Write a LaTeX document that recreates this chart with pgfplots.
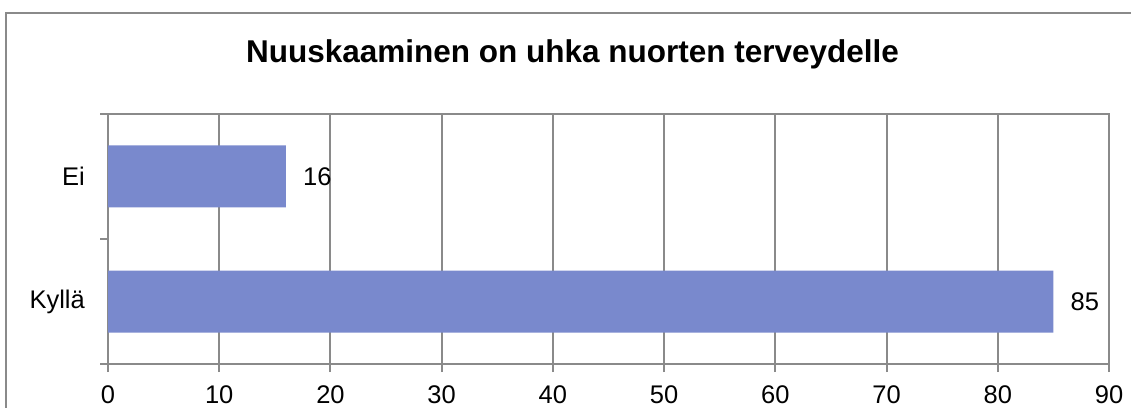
\documentclass[border=0pt]{standalone}
\usepackage{fontspec}
\setmainfont{Liberation Sans}
\usepackage{pgfplots}
\pgfplotsset{compat=1.18}
\definecolor{barblue}{RGB}{121,137,205}
\definecolor{gridgray}{RGB}{138,138,138}
\begin{document}
\begin{tikzpicture}[x=1pt,y=1pt]
\begin{scope}
\clip (0,0) rectangle (1131,407);
\draw[gridgray, line width=2pt] (6,-20) rectangle (1160,394);
\end{scope}
\node[font=\fontsize{31.5}{36}\selectfont\bfseries, anchor=base, inner sep=0pt] at (572.5,344) {Nuuskaaminen on uhka nuorten terveydelle};
\begin{axis}[
  at={(108pt,43pt)}, anchor=south west,
  scale only axis, width=1001pt, height=250pt,
  xbar, bar width=62pt,
  xmin=0, xmax=90, ymin=0.5, ymax=2.5,
  xtick={0,10,...,90},
  ytick={0.5,1.5,2.5}, yticklabels={},
  extra y ticks={1,2}, extra y tick labels={Kyllä,Ei},
  extra y tick style={major tick length=0pt, grid=none,
     yticklabel style={anchor=east, inner sep=0pt, xshift=-23pt}},
  xtick pos=left, ytick pos=left,
  tick align=outside, major tick length=8pt,
  xmajorgrids, ymajorgrids=false,
  grid style={gridgray, line width=2pt},
  axis line style={gridgray, line width=2pt},
  tick style={gridgray, line width=2pt},
  ticklabel style={font=\fontsize{25.5}{30}\selectfont, text=black},
  xticklabel style={inner sep=0pt, anchor=north, yshift=-13pt},
  /pgf/number format/assume math mode=true,
  nodes near coords,
  every node near coord/.append style={font=\fontsize{25.5}{30}\selectfont, text=black, anchor=west, inner sep=0pt, xshift=17pt},
]
\addplot[fill=barblue, draw=none] coordinates {(85,1) (16,2)};
\end{axis}
\end{tikzpicture}
\end{document}
